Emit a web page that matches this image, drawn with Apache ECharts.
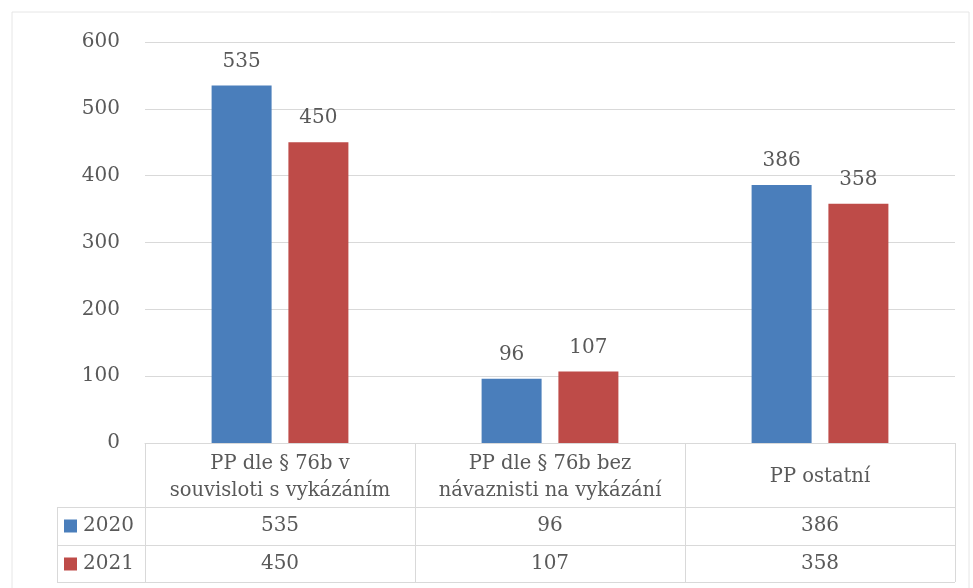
<!DOCTYPE html>
<html><head><meta charset="utf-8">
<script src="https://cdn.jsdelivr.net/npm/echarts@6/dist/echarts.min.js"></script>
<style>html,body{margin:0;padding:0;background:#fff}#c{width:973px;height:588px}</style>
</head><body><div id="c"></div>
<script>
var categories = ['PP dle § 76b v\nsouvisloti s vykázáním', 'PP dle § 76b bez\nnávaznisti na vykázání', 'PP ostatní'];
var seriesNames = ['2020', '2021'];
var values2020 = [535, 96, 386];
var values2021 = [450, 107, 358];
var yTicks = [0, 100, 200, 300, 400, 500, 600];

var FONT = 'DejaVu Serif';
var TXT = '#595959';
var LINE = '#d9d9d9';
var colors = ['#4a7ebb', '#be4b48'];

var chart = echarts.init(document.getElementById('c'));
var option = {
  animation: false,
  color: colors,
  textStyle: { fontFamily: FONT },
  grid: { left: 145, right: 18, top: 42, bottom: 145 },
  legend: {
    orient: 'vertical', left: 64, top: 514, padding: 0,
    itemWidth: 13, itemHeight: 13, itemGap: 14,
    icon: 'rect',
    textStyle: { fontFamily: FONT, fontSize: 20, color: TXT, lineHeight: 24, padding: [0, 0, 0, 1] },
    data: seriesNames
  },
  xAxis: {
    type: 'category', data: categories,
    axisLine: { lineStyle: { color: LINE, width: 1 } },
    axisTick: { show: true, length: 139, interval: 0, lineStyle: { color: LINE } },
    axisLabel: { fontFamily: FONT, fontSize: 19.5, color: TXT, lineHeight: 27, margin: 34, verticalAlign: 'middle', interval: 0 }
  },
  yAxis: {
    type: 'value', min: yTicks[0], max: yTicks[yTicks.length - 1], interval: 100,
    axisLine: { show: false }, axisTick: { show: false },
    axisLabel: { fontFamily: FONT, fontSize: 20, color: TXT, margin: 25 },
    splitLine: { lineStyle: { color: LINE, width: 1 } }
  },
  series: [
    { name: seriesNames[0], type: 'bar', data: values2020, barWidth: 60, barGap: '28%',
      label: { show: true, position: 'top', distance: 14, fontFamily: FONT, fontSize: 20, color: TXT } },
    { name: seriesNames[1], type: 'bar', data: values2021, barWidth: 60, barGap: '28%',
      label: { show: true, position: 'top', distance: 14, fontFamily: FONT, fontSize: 20, color: TXT } }
  ]
};
chart.setOption(option);

var rowY = [526, 564];
var rows = [values2020, values2021];
var graphics = [
  { type: 'rect', shape: { x: 12, y: 12, width: 957, height: 580 }, style: { fill: 'none', stroke: '#e6e6e6', lineWidth: 1 }, silent: true },
  { type: 'line', shape: { x1: 57, y1: 507.5, x2: 955, y2: 507.5 }, style: { stroke: LINE, lineWidth: 1 } },
  { type: 'line', shape: { x1: 57, y1: 545.5, x2: 955, y2: 545.5 }, style: { stroke: LINE, lineWidth: 1 } },
  { type: 'line', shape: { x1: 57, y1: 582.5, x2: 955, y2: 582.5 }, style: { stroke: LINE, lineWidth: 1 } },
  { type: 'line', shape: { x1: 57.5, y1: 507, x2: 57.5, y2: 583 }, style: { stroke: LINE, lineWidth: 1 } }
];
rows.forEach(function (vals, r) {
  vals.forEach(function (v, i) {
    var x = chart.convertToPixel({ xAxisIndex: 0 }, i);
    graphics.push({ type: 'text', x: x, y: rowY[r], style: { text: String(v), fontFamily: FONT, fontSize: 20, fill: TXT, align: 'center', verticalAlign: 'middle' } });
  });
});
chart.setOption({ graphic: graphics });
</script></body></html>
